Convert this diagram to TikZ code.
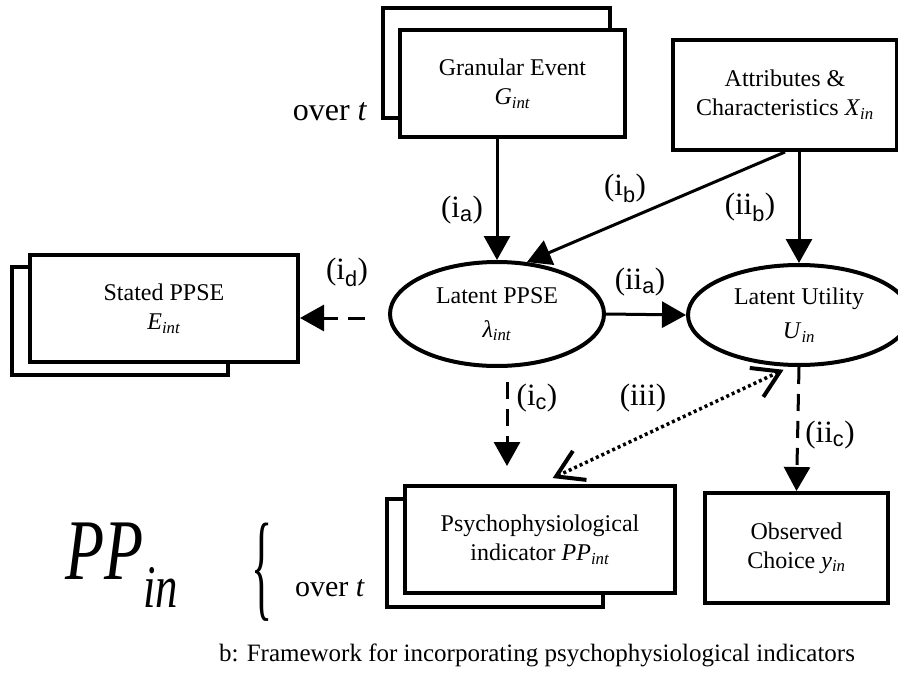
\documentclass[tikz,border=0pt]{standalone}
\usepackage{fontspec}
\setmainfont{Liberation Serif}
\newfontfamily\subsans{Liberation Sans}
\usetikzlibrary{arrows.meta,calc,shapes.geometric}
\def\vsub#1#2{\textit{#1}\textsubscript{\textit{#2}}}
\def\plab#1#2{(#1\textsubscript{\subsans #2})}
\tikzset{
	box/.style={draw, line width=4pt, fill=white, align=center, inner sep=0pt, font=\fontsize{24}{29}\selectfont},
	backbox/.style={draw, line width=4pt, fill=white},
	latent/.style={box, ellipse, font=\fontsize{24}{34}\selectfont},
	solidarr/.style={line width=3pt, -{Triangle[length=24pt,width=26pt]}},
	dasharr/.style={solidarr, dash pattern=on 17pt off 10pt},
	dotarr/.style={line width=3.5pt, dash pattern=on 3pt off 3pt, {Straight Barb[length=26pt,width=32pt,line width=4pt]}-{Straight Barb[length=26pt,width=32pt,line width=4pt]}},
	lbl/.style={inner sep=0pt, font=\fontsize{31}{31}\selectfont}
}

\begin{document}
\begin{tikzpicture}[x=1pt,y=-1pt]
		%%%%% START %%%%%
		\useasboundingbox (0,0) rectangle (898,696);
		
		% stacked copies behind the boxes
		\draw[backbox] (383,8) rectangle (610,118);
		\draw[backbox] (12,267) rectangle (228,375);
		\draw[backbox] (387,499) rectangle (603,607);
		
		\node[box, minimum width=225pt, minimum height=107pt] (gran) at (512.5,83.5) {Granular Event\\\vsub{G}{int}};
		\node[box, minimum width=224pt, minimum height=110pt] (attr) at (785,95) {Attributes \&\\Characteristics \vsub{X}{in}};
		\node[box, minimum width=268pt, minimum height=107pt] (stated) at (164,308.5) {Stated PPSE\\\vsub{E}{int}};
		\node[latent, minimum width=214pt, minimum height=104pt] (lpp) at (497,314) {Latent PPSE\\\vsub{λ}{int}};
		\node[latent, minimum width=222pt, minimum height=100pt] (lu) at (799,315) {Latent Utility\\\vsub{U}{in}};
		\node[box, minimum width=270pt, minimum height=107pt] (psych) at (540,539.5) {Psychophysiological\\indicator \vsub{PP}{int}};
		\node[box, minimum width=183pt, minimum height=110pt] (obs) at (796.5,548) {Observed\\Choice \vsub{y}{in}};
		
		\node[font=\fontsize{32}{32}\selectfont] (overtop) at (330,112) {over \textit{t}};
		\node (ppin) at (122,565) {\scalebox{1}[1.35]{\fontsize{64}{64}\selectfont\vsub{PP}{in}}};
		\node[inner sep=0pt] (brace) at (262,572) {\scalebox{1}[2.7]{\fontsize{44}{44}\selectfont\{}};
		\node[font=\fontsize{30}{30}\selectfont] (overbot) at (330,588) {over \textit{t}};
		
		\draw[solidarr] (gran.south -| lpp.north) -- (lpp.north);
		\draw[solidarr] (attr.south) -- (lpp.60);
		\draw[solidarr] (attr.south -| lu.north) -- (lu.north);
		\draw[solidarr] (lpp.east) -- (lu.west);
		\draw[dasharr, shorten <=23pt] (lpp.west |- 0,318) -- (stated.east |- 0,318);
		\draw[dasharr, shorten <=14pt, shorten >=18pt] ([xshift=10pt]lpp.south) -- ([xshift=10pt]psych.north -| lpp.south);
		\draw[dasharr] (lu.south) -- (obs.north);
		\draw[dotarr, shorten <=14pt, shorten >=7pt] (psych.north) -- (lu.260);
		
		\node[lbl] (ia) at (462,210) {\plab{i}{a}};
		\node[lbl] (ib) at (625,188) {\plab{i}{b}};
		\node[lbl] (iib) at (750,207) {\plab{ii}{b}};
		\node[lbl] (id) at (347,272) {\plab{i}{d}};
		\node[lbl] (iia) at (640,282) {\plab{ii}{a}};
		\node[lbl] (ic) at (537,398) {\plab{i}{c}};
		\node[lbl] (iii) at (643,398) {(iii)};
		\node[lbl] (iic) at (830,435) {\plab{ii}{c}};
		
		\node[font=\fontsize{25}{25}\selectfont] (caption) at (537,655) {b: Framework for incorporating psychophysiological indicators};
		%%%%% END %%%%%
\end{tikzpicture}
\end{document}
